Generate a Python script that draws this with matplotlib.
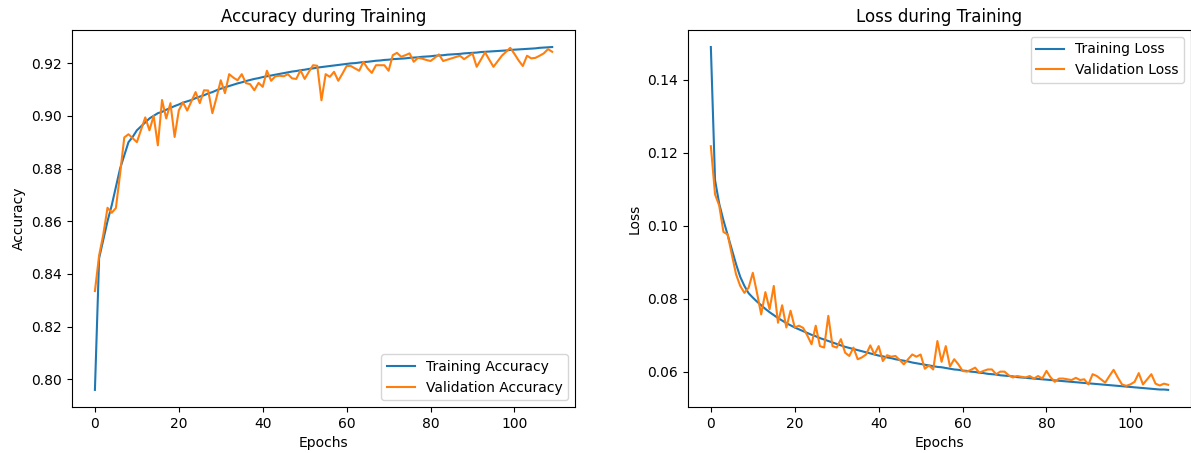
import matplotlib
matplotlib.use('Agg')
import matplotlib.pyplot as plt

# values (epochs 0..109)
train_acc = [
    0.796, 0.846, 0.853, 0.860, 0.866, 0.873, 0.880, 0.885, 0.890, 0.892,
    0.8945, 0.896, 0.8975, 0.899, 0.900, 0.901, 0.9015, 0.9023, 0.903, 0.9037,
    0.9043, 0.905, 0.9055, 0.906, 0.9067, 0.9073, 0.9078, 0.9085, 0.909, 0.9097,
    0.9103, 0.9108, 0.9113, 0.9118, 0.9123, 0.9127, 0.9132, 0.9136, 0.914, 0.9143,
    0.9147, 0.915, 0.9153, 0.9156, 0.9159, 0.9162, 0.9165, 0.9168, 0.917, 0.9173,
    0.9175, 0.9178, 0.918, 0.9183, 0.9185, 0.9187, 0.9189, 0.9191, 0.9193, 0.9195,
    0.9197, 0.9199, 0.9200, 0.9202, 0.9204, 0.9205, 0.9207, 0.9209, 0.921, 0.9212,
    0.9213, 0.9215, 0.9216, 0.9217, 0.9218, 0.922, 0.9221, 0.9222, 0.9224, 0.9225,
    0.9226, 0.9228, 0.9229, 0.9230, 0.9232, 0.9233, 0.9234, 0.9235, 0.9237, 0.9238,
    0.9239, 0.9240, 0.9242, 0.9243, 0.9244, 0.9245, 0.9246, 0.9247, 0.9248, 0.9250,
    0.9251, 0.9252, 0.9253, 0.9254, 0.9255, 0.9256, 0.9258, 0.9259, 0.9260, 0.9261,
]
val_acc = [
    0.8335, 0.847, 0.855, 0.8651, 0.8632, 0.865, 0.878, 0.8918, 0.893, 0.8915,
    0.890, 0.8947, 0.8994, 0.8945, 0.900, 0.8888, 0.906, 0.899, 0.9048, 0.892,
    0.9021, 0.9051, 0.902, 0.9055, 0.909, 0.9048, 0.9097, 0.9096, 0.901, 0.907,
    0.9135, 0.9086, 0.9158, 0.9145, 0.9135, 0.9158, 0.9124, 0.912, 0.9097, 0.9125,
    0.911, 0.9171, 0.9133, 0.915, 0.9152, 0.915, 0.9158, 0.9142, 0.914, 0.9173,
    0.914, 0.9167, 0.9192, 0.919, 0.9059, 0.9158, 0.9148, 0.9167, 0.9133, 0.916,
    0.9189, 0.9189, 0.918, 0.9171, 0.9205, 0.918, 0.9163, 0.9192, 0.9192, 0.9192,
    0.9171, 0.923, 0.9239, 0.9224, 0.923, 0.9237, 0.9205, 0.922, 0.9217, 0.9212,
    0.9208, 0.922, 0.9233, 0.9208, 0.9213, 0.9218, 0.9223, 0.9228, 0.9215, 0.9226,
    0.9237, 0.9186, 0.9213, 0.9241, 0.9213, 0.9186, 0.9207, 0.9228, 0.9243, 0.9258,
    0.9235, 0.921, 0.9189, 0.9228, 0.9218, 0.922, 0.9228, 0.9237, 0.9253, 0.9243,
]
train_loss = [
    0.149, 0.1125, 0.106, 0.1015, 0.0975, 0.0935, 0.0895, 0.086, 0.0835, 0.0815,
    0.0803, 0.0792, 0.0782, 0.0772, 0.0763, 0.0755, 0.0747, 0.074, 0.0733, 0.0727,
    0.0721, 0.0716, 0.0711, 0.0706, 0.0701, 0.0697, 0.0692, 0.0688, 0.0684, 0.068,
    0.0676, 0.0672, 0.0668, 0.0665, 0.0662, 0.0659, 0.0656, 0.0653, 0.065, 0.0647,
    0.0644, 0.0642, 0.0639, 0.0637, 0.0634, 0.0632, 0.063, 0.0628, 0.0625, 0.0623,
    0.0621, 0.0619, 0.0617, 0.0615, 0.0613, 0.0612, 0.061, 0.0608, 0.0606, 0.0605,
    0.0603, 0.0602, 0.060, 0.0599, 0.0597, 0.0596, 0.0594, 0.0593, 0.0592, 0.059,
    0.0589, 0.0588, 0.0587, 0.0585, 0.0584, 0.0583, 0.0582, 0.0581, 0.058, 0.0579,
    0.0578, 0.0577, 0.0576, 0.0575, 0.0574, 0.0573, 0.0572, 0.0571, 0.057, 0.0569,
    0.0568, 0.0567, 0.0566, 0.0565, 0.0564, 0.0563, 0.0562, 0.0561, 0.0560, 0.0559,
    0.0558, 0.0557, 0.0556, 0.0555, 0.0554, 0.0553, 0.0552, 0.0551, 0.0551, 0.055,
]
val_loss = [
    0.1218, 0.1086, 0.1055, 0.0983, 0.0976, 0.0921, 0.0867, 0.0835, 0.0816, 0.083,
    0.0871, 0.0816, 0.0757, 0.0818, 0.0771, 0.0835, 0.0734, 0.0782, 0.0721, 0.0767,
    0.0721, 0.0726, 0.072, 0.0699, 0.0675, 0.0726, 0.067, 0.0666, 0.0753, 0.067,
    0.0666, 0.0689, 0.0652, 0.0643, 0.0666, 0.0634, 0.0639, 0.0647, 0.0672, 0.0647,
    0.067, 0.0629, 0.0645, 0.0641, 0.0643, 0.0632, 0.062, 0.0634, 0.0647, 0.0641,
    0.0647, 0.0608, 0.0617, 0.0606, 0.0684, 0.0627, 0.067, 0.0614, 0.0634, 0.062,
    0.0602, 0.060, 0.0605, 0.0611, 0.0597, 0.0602, 0.0606, 0.0606, 0.0593, 0.060,
    0.060, 0.059, 0.0584, 0.0588, 0.0586, 0.0584, 0.0588, 0.0581, 0.0588, 0.0581,
    0.0602, 0.0584, 0.0572, 0.0581, 0.0581, 0.0579, 0.0577, 0.0583, 0.0577, 0.0579,
    0.0565, 0.0593, 0.0588, 0.0579, 0.057, 0.0588, 0.0605, 0.0584, 0.0565, 0.0561,
    0.0565, 0.0572, 0.0596, 0.0565, 0.0579, 0.0593, 0.0567, 0.0562, 0.0567, 0.0564,
]
epochs = list(range(len(train_acc)))

fig, (ax1, ax2) = plt.subplots(1, 2, figsize=(11.91, 4.53), dpi=100)
plt.subplots_adjust(left=0.0605, right=1.0, bottom=0.1015, top=0.934, wspace=0.2245)

ax1.plot(epochs, train_acc, label='Training Accuracy')
ax1.plot(epochs, val_acc, label='Validation Accuracy')
ax1.set_title('Accuracy during Training')
ax1.set_xlabel('Epochs')
ax1.set_ylabel('Accuracy')
ax1.legend(loc='lower right')

ax2.plot(epochs, train_loss, label='Training Loss')
ax2.plot(epochs, val_loss, label='Validation Loss')
ax2.set_title('Loss during Training')
ax2.set_xlabel('Epochs')
ax2.set_ylabel('Loss')
ax2.legend(loc='upper right')

plt.savefig('out.png', dpi=100)
